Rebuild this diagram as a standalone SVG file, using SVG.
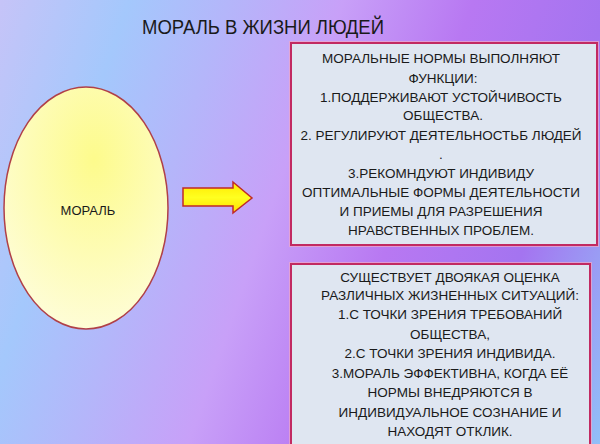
<svg xmlns="http://www.w3.org/2000/svg" width="600" height="444" viewBox="0 0 600 444">
<defs>
<linearGradient id="bg" gradientUnits="userSpaceOnUse" x1="0" y1="0" x2="680" y2="238">
<stop offset="0" stop-color="#c6c4f8"/>
<stop offset="0.17" stop-color="#a4c8fc"/>
<stop offset="0.3" stop-color="#b4b6fa"/>
<stop offset="0.45" stop-color="#c8a0f8"/>
<stop offset="0.62" stop-color="#b878f2"/>
<stop offset="0.8" stop-color="#a474f0"/>
<stop offset="1" stop-color="#90c4f8"/>
</linearGradient>
<radialGradient id="egg" cx="0.55" cy="0.3" r="0.8">
<stop offset="0" stop-color="#fdfb8c"/>
<stop offset="1" stop-color="#fefde0"/>
</radialGradient>
<linearGradient id="arr" x1="0" y1="0" x2="0" y2="1">
<stop offset="0" stop-color="#ffe800"/>
<stop offset="0.5" stop-color="#ffff20"/>
<stop offset="1" stop-color="#ffe000"/>
</linearGradient>
</defs>
<style>
.t{font-family:"Liberation Sans","Open Sans",sans-serif;fill:#1a1a1a;text-anchor:middle;white-space:pre}
.b{font-size:13.5px}
.box{fill:#dfe6f1;stroke:#c22a62;stroke-width:2}
.halo{fill:none;stroke:#f0a8c8;stroke-width:4;opacity:0.7}
</style>
<rect x="0" y="0" width="600" height="444" fill="url(#bg)"/>
<text class="t" x="263" y="34" font-size="20" textLength="242" lengthAdjust="spacingAndGlyphs">МОРАЛЬ В ЖИЗНИ ЛЮДЕЙ</text>
<g id="moral">
<ellipse cx="86" cy="208" rx="82" ry="121" fill="url(#egg)" stroke="#b04048" stroke-width="1.5"/>
<text class="t" x="88" y="215" font-size="13">МОРАЛЬ</text>
</g>
<g id="connectors">
<path d="M183,188 H233 V182 L252,198 L233,213 V206 H183 Z" fill="url(#arr)" stroke="#c02a28" stroke-width="1.5" stroke-linejoin="miter"/>
</g>
<g id="norms">
<rect class="halo" x="291" y="43" width="306" height="202"/>
<rect class="box" x="291" y="43" width="306" height="202"/>
<g class="t b">
<text x="441" y="63">МОРАЛЬНЫЕ НОРМЫ  ВЫПОЛНЯЮТ</text>
<text x="443" y="83">ФУНКЦИИ:</text>
<text x="441" y="102">1.ПОДДЕРЖИВАЮТ УСТОЙЧИВОСТЬ</text>
<text x="443" y="120">ОБЩЕСТВА.</text>
<text x="441" y="140">2. РЕГУЛИРУЮТ ДЕЯТЕЛЬНОСТЬБ ЛЮДЕЙ</text>
<text x="441" y="159">.</text>
<text x="441" y="178">3.РЕКОМНДУЮТ  ИНДИВИДУ</text>
<text x="441" y="197">ОПТИМАЛЬНЫЕ ФОРМЫ ДЕЯТЕЛЬНОСТИ</text>
<text x="441" y="216">И ПРИЕМЫ  ДЛЯ РАЗРЕШЕНИЯ</text>
<text x="441" y="235">НРАВСТВЕННЫХ  ПРОБЛЕМ.</text>
</g>
</g>
<g id="assessment">
<rect class="halo" x="291" y="264" width="299" height="184"/>
<rect class="box" x="291" y="264" width="299" height="184"/>
<g class="t b">
<text x="450" y="282">СУЩЕСТВУЕТ  ДВОЯКАЯ ОЦЕНКА</text>
<text x="450" y="300">РАЗЛИЧНЫХ ЖИЗНЕННЫХ  СИТУАЦИЙ:</text>
<text x="450" y="319">1.С ТОЧКИ ЗРЕНИЯ  ТРЕБОВАНИЙ</text>
<text x="450" y="339">ОБЩЕСТВА,</text>
<text x="450" y="358">2.С ТОЧКИ ЗРЕНИЯ ИНДИВИДА.</text>
<text x="450" y="378">3.МОРАЛЬ ЭФФЕКТИВНА, КОГДА ЕЁ</text>
<text x="450" y="397">НОРМЫ  ВНЕДРЯЮТСЯ В</text>
<text x="450" y="417">ИНДИВИДУАЛЬНОЕ СОЗНАНИЕ  И</text>
<text x="450" y="436">НАХОДЯТ ОТКЛИК.</text>
</g>
</g>
</svg>
